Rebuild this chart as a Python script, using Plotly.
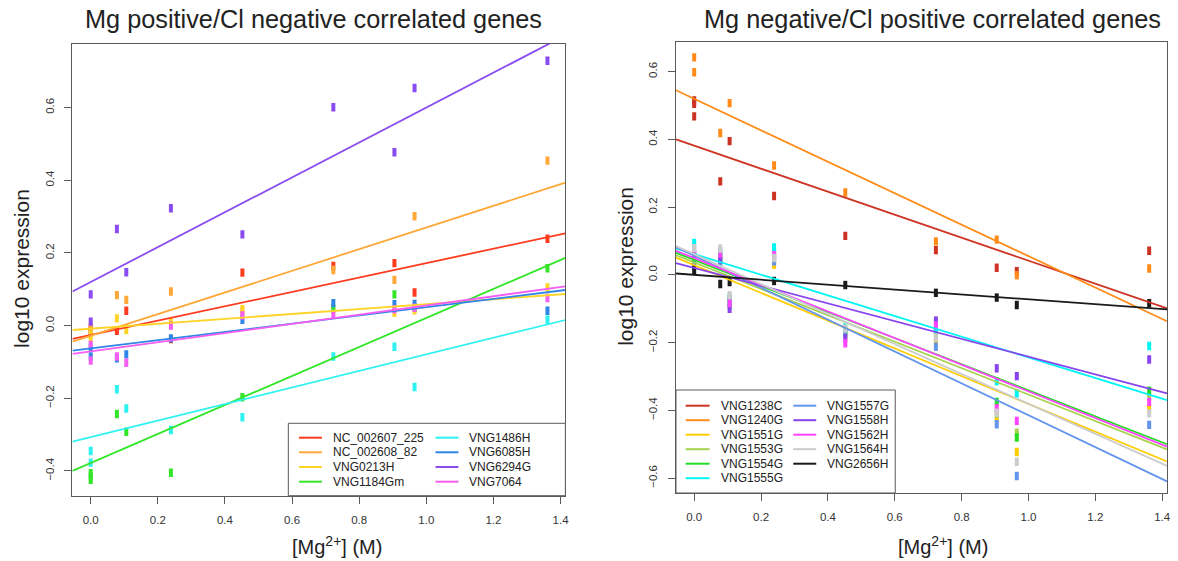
import plotly.graph_objects as go

W, H = 1178, 561

# ---------------- data ----------------
# x positions: three replicate slots at 0, then one per concentration
mg_x = [0.0, 0.0, 0.0, 0.078, 0.106, 0.239, 0.452, 0.723, 0.905, 0.965, 1.361]

left_genes = ["NC_002607_225", "NC_002608_82", "VNG0213H", "VNG1184Gm",
              "VNG1486H", "VNG6085H", "VNG6294G", "VNG7064"]
left_colors = ["#ff3b1f", "#ffa83a", "#ffd428", "#33e62a",
               "#2ef2f2", "#2f86e6", "#8a4cf0", "#f55ef2"]
left_y = {
    "NC_002607_225": [-0.005, -0.012, None, -0.014, 0.041, -0.037, 0.146, 0.164, 0.172, 0.091, 0.239],
    "NC_002608_82":  [-0.010, -0.020, None, 0.084, 0.071, 0.094, 0.040, 0.153, 0.126, 0.301, 0.454],
    "VNG0213H":      [-0.035, -0.025, None, 0.020, -0.012, 0.011, 0.045, 0.045, 0.035, 0.042, 0.105],
    "VNG1184Gm":     [-0.406, -0.415, -0.424, -0.243, -0.292, -0.405, -0.197, 0.048, 0.086, 0.050, 0.158],
    "VNG1486H":      [-0.345, -0.377, None, -0.175, -0.228, -0.287, -0.252, -0.085, -0.058, -0.169, 0.016],
    "VNG6085H":      [-0.085, -0.060, None, -0.090, -0.079, -0.035, 0.016, 0.062, 0.059, 0.060, 0.041],
    "VNG6294G":      [0.086, 0.011, None, 0.266, 0.147, 0.323, 0.251, 0.601, 0.477, 0.654, 0.729],
    "VNG7064":       [-0.053, -0.096, None, -0.085, -0.102, 0.000, 0.028, 0.030, 0.045, 0.049, 0.076],
}
left_intercept = [-0.026, -0.028, -0.0083, -0.378, -0.307, -0.0628, 0.120, -0.0711]
left_slope = [0.198, 0.298, 0.0674, 0.399, 0.228, 0.1137, 0.480, 0.1266]

right_genes = ["VNG1238C", "VNG1240G", "VNG1551G", "VNG1553G", "VNG1554G", "VNG1555G",
               "VNG1557G", "VNG1558H", "VNG1562H", "VNG1564H", "VNG2656H"]
right_colors = ["#cc3322", "#ff8c1a", "#ffcc00", "#a6d24e", "#22dd22", "#00f5f5",
                "#6495ed", "#8844ee", "#ff44ff", "#cccccc", "#1a1a1a"]
right_y = {
    "VNG1238C": [0.515, 0.505, 0.468, 0.276, 0.395, 0.233, 0.115, 0.073, 0.021, 0.011, 0.071],
    "VNG1240G": [0.642, 0.598, None, 0.419, 0.507, 0.323, 0.243, 0.099, 0.104, -0.001, 0.019],
    "VNG1551G": [0.037, None, None, 0.040, -0.070, 0.030, -0.180, -0.198, -0.424, -0.523, -0.395],
    "VNG1553G": [0.055, None, None, 0.050, -0.065, 0.045, -0.165, -0.180, -0.410, -0.466, -0.360],
    "VNG1554G": [0.049, None, None, 0.055, -0.088, 0.068, -0.170, -0.170, -0.375, -0.480, -0.342],
    "VNG1555G": [0.094, None, None, 0.070, -0.070, 0.081, -0.155, -0.160, -0.314, -0.350, -0.210],
    "VNG1557G": [0.027, None, None, 0.038, -0.078, 0.040, -0.173, -0.212, -0.441, -0.594, -0.443],
    "VNG1558H": [0.062, None, None, 0.045, -0.100, 0.055, -0.187, -0.135, -0.276, -0.299, -0.250],
    "VNG1562H": [0.072, None, None, 0.063, -0.083, 0.058, -0.202, -0.150, -0.394, -0.431, -0.375],
    "VNG1564H": [0.079, None, None, 0.078, -0.060, 0.050, -0.158, -0.185, -0.407, -0.552, -0.409],
    "VNG2656H": [0.015, None, None, -0.027, -0.021, -0.018, -0.030, -0.053, -0.067, -0.089, -0.084],
}
right_intercept = [0.3815, 0.5197, 0.0287, 0.0368, 0.0441, 0.0614, 0.0564, 0.0207, 0.0496, 0.0610, 0.0001]
right_slope = [-0.3397, -0.4643, -0.4099, -0.3901, -0.3847, -0.3050, -0.4710, -0.2621, -0.3935, -0.4419, -0.0722]

x_ticks = [0.0, 0.2, 0.4, 0.6, 0.8, 1.0, 1.2, 1.4]
left_yticks = [-0.4, -0.2, 0.0, 0.2, 0.4, 0.6]
right_yticks = [-0.6, -0.4, -0.2, 0.0, 0.2, 0.4, 0.6]

titles = ["Mg positive/Cl negative correlated genes", "Mg negative/Cl positive correlated genes"]
x_title = "[Mg<sup>2+</sup>] (M)"
y_title = "log10 expression"

# ---------------- layout helpers ----------------
FONT = "Liberation Sans, Arial, Helvetica, sans-serif"
TXT = "#222222"
BOX = "#5a5a5a"
XR = [-0.0544, 1.4144]


def px(xp):
    return xp / W


def py(yp):
    return 1 - yp / H


fig = go.Figure()

panels = [
    dict(genes=left_genes, colors=left_colors, ys=left_y, a=left_intercept, b=left_slope,
         xa="x", ya="y"),
    dict(genes=right_genes, colors=right_colors, ys=right_y, a=right_intercept, b=right_slope,
         xa="x2", ya="y2"),
]

for p in panels:
    # points (small upright rectangles)
    for g, c in zip(p["genes"], p["colors"]):
        yy = p["ys"][g]
        xs = [x for x, v in zip(mg_x, yy) if v is not None]
        vs = [v for v in yy if v is not None]
        fig.add_trace(go.Scatter(x=xs, y=vs, mode="markers", xaxis=p["xa"], yaxis=p["ya"],
                                 marker=dict(symbol="line-ns", size=6, color=c,
                                             line=dict(width=4, color=c)),
                                 showlegend=False, hoverinfo="skip"))
    # regression lines
    for g, c, a, b in zip(p["genes"], p["colors"], p["a"], p["b"]):
        xs = [XR[0], XR[1]]
        fig.add_trace(go.Scatter(x=xs, y=[a + b * x for x in xs], mode="lines",
                                 xaxis=p["xa"], yaxis=p["ya"], name=g,
                                 line=dict(color=c, width=1.8), showlegend=False,
                                 hoverinfo="skip"))

axis_common = dict(showline=True, mirror=True, linecolor=BOX, linewidth=1,
                   ticks="outside", ticklen=7, tickcolor=BOX, tickwidth=1,
                   showgrid=False, zeroline=False, tickformat=".1f",
                   tickfont=dict(family=FONT, size=11.5, color="#333333"))

fig.update_layout(
    width=W, height=H, margin=dict(l=0, r=0, t=0, b=0),
    paper_bgcolor="white", plot_bgcolor="white", showlegend=False,
    font=dict(family=FONT, color=TXT),
    xaxis=dict(domain=[px(72.7), px(567.3)], range=XR, tickvals=x_ticks,
               anchor="y", ticklabelstandoff=6, **axis_common),
    yaxis=dict(domain=[py(495.7), py(44)], range=[-0.468, 0.775], tickvals=left_yticks,
               anchor="x", tickangle=-90, ticklabelstandoff=6, **axis_common),
    xaxis2=dict(domain=[px(678.3), px(1171)], range=XR, tickvals=x_ticks,
                anchor="y2", ticklabelstandoff=6, **axis_common),
    yaxis2=dict(domain=[py(493), py(41.5)], range=[-0.644, 0.689], tickvals=right_yticks,
                anchor="x2", tickangle=-90, ticklabelstandoff=6, **axis_common),
)

ann = []
# titles
ann.append(dict(text=titles[0], x=px(315), y=py(19), xref="paper", yref="paper",
                showarrow=False, font=dict(size=25.3, family=FONT, color=TXT),
                xanchor="center", yanchor="middle"))
ann.append(dict(text=titles[1], x=px(936), y=py(19), xref="paper", yref="paper",
                showarrow=False, font=dict(size=25.3, family=FONT, color=TXT),
                xanchor="center", yanchor="middle"))
# axis titles
for xc in (338, 946):
    ann.append(dict(text=x_title, x=px(xc), y=py(545), xref="paper", yref="paper",
                    showarrow=False, font=dict(size=20, family=FONT, color=TXT),
                    xanchor="center", yanchor="middle"))
for xc, yc in ((21, 268), (627, 266)):
    ann.append(dict(text=y_title, x=px(xc), y=py(yc), xref="paper", yref="paper",
                    showarrow=False, textangle=-90, font=dict(size=21, family=FONT, color=TXT),
                    xanchor="center", yanchor="middle"))

shapes = []


def legend(genes, colors, box, cols, rows_y):
    x0, y0, x1, y1 = box
    shapes.append(dict(type="rect", xref="paper", yref="paper",
                       x0=px(x0), x1=px(x1), y0=py(y1), y1=py(y0),
                       line=dict(color=BOX, width=1), fillcolor="white", layer="above"))
    nrow = len(rows_y)
    for i, (g, c) in enumerate(zip(genes, colors)):
        ci, ri = divmod(i, nrow)
        lx0, lx1, tx = cols[ci]
        yy = rows_y[ri]
        shapes.append(dict(type="line", xref="paper", yref="paper",
                           x0=px(lx0), x1=px(lx1), y0=py(yy), y1=py(yy),
                           line=dict(color=c, width=2), layer="above"))
        ann.append(dict(text=g, x=px(tx), y=py(yy), xref="paper", yref="paper",
                        showarrow=False, xanchor="left", yanchor="middle",
                        font=dict(size=12, family=FONT, color=TXT)))


legend(left_genes, left_colors, (289.3, 423.3, 567.3, 495.7),
       [(300, 323, 332), (437, 460, 469)], [437.7, 452.3, 467.0, 481.7])
legend(right_genes, right_colors, (678.3, 390.0, 898.3, 493.0),
       [(688, 712, 721), (796, 819, 828)], [405.7, 420.2, 434.7, 449.2, 463.7, 478.2])

fig.update_layout(annotations=ann, shapes=shapes)

fig.write_html("out.html")
